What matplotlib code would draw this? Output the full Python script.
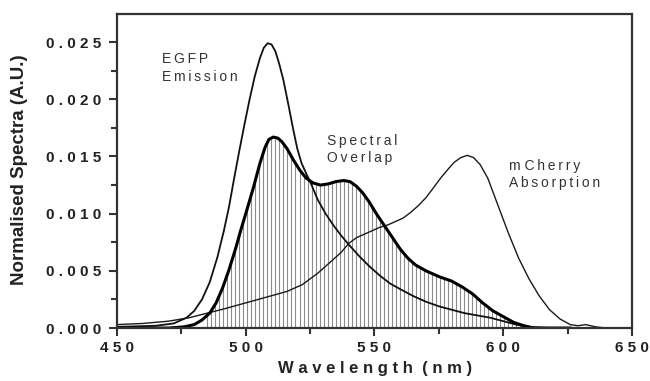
"""
EGFP emission / mCherry absorption spectral overlap
"""

import matplotlib
matplotlib.use('Agg')
import matplotlib.pyplot as plt
import numpy as np

plt.rcParams['font.family'] = ['Liberation Sans', 'DejaVu Sans']

# ---- data ----
# EGFP emission
egfp_nm = [450, 465, 472, 477, 480, 483, 486, 489, 491.5, 493.5, 495.5, 497.5, 499.5,
           501.5, 503.5, 505.5, 507, 508.5, 510, 511.5, 513, 514.6, 516.5, 518.5, 520,
           521.7, 523.5, 525, 528, 531, 534, 537, 540, 544, 548, 552, 556, 560, 565,
           570, 575, 580, 585, 590, 595, 600, 605, 610, 618, 625]
egfp_val = [0.0001, 0.0002, 0.0004, 0.0009, 0.0015, 0.0025, 0.0040, 0.0062, 0.0085,
            0.0106, 0.0131, 0.0155, 0.0178, 0.0200, 0.0220, 0.0236, 0.0245, 0.0249,
            0.0248, 0.0242, 0.0231, 0.0217, 0.0196, 0.0173, 0.0157, 0.0144, 0.0135,
            0.0128, 0.0112, 0.0100, 0.0090, 0.0081, 0.0073, 0.0063, 0.0054, 0.0046,
            0.0039, 0.0034, 0.0028, 0.0023, 0.0019, 0.0016, 0.0013, 0.0011, 0.0009,
            0.0006, 0.0003, 0.0001, 0.0, 0.0]

# mCherry absorption
mch_nm = [450, 460, 470, 478, 485, 492, 500, 508, 516, 522, 528, 531, 534, 537, 540,
          543, 546, 549, 552, 555, 558, 561, 564, 567, 570, 573, 576, 579, 581, 583.5,
          586, 588.5, 591, 594, 598, 602, 606, 610, 614, 618, 622, 626, 629, 632, 636,
          640]
mch_val = [0.0003, 0.0004, 0.0006, 0.0009, 0.0013, 0.0017, 0.0022, 0.0027, 0.0032,
           0.0038, 0.0048, 0.0054, 0.0060, 0.0066, 0.0074, 0.0079, 0.0082, 0.0085,
           0.0088, 0.0090, 0.0093, 0.0096, 0.0101, 0.0107, 0.0114, 0.0123, 0.0132,
           0.0140, 0.0145, 0.0149, 0.0151, 0.0149, 0.0143, 0.0131, 0.0107, 0.0083,
           0.0061, 0.0043, 0.0028, 0.0016, 0.0008, 0.0003, 0.0002, 0.0003, 0.0001, 0.0]

# spectral overlap (thick, hatched)
ovl_nm = [450, 470, 476, 480, 483, 486, 488.5, 491, 493.5, 496, 498, 500.4, 503, 505.5,
          507.5, 509, 510.7, 512.5, 514, 516, 518.5, 521, 523.5, 526, 529, 532, 535,
          538, 540.5, 543, 545.5, 548, 551, 554, 557, 560, 563, 566, 570, 575, 580,
          584, 588, 592, 596, 600, 604, 608, 612, 626]
ovl_val = [0.0, 0.0, 0.0001, 0.0003, 0.0007, 0.0013, 0.0022, 0.0035, 0.0051, 0.0069,
           0.0085, 0.0103, 0.0123, 0.0144, 0.0158, 0.0165, 0.0167, 0.0166, 0.0163,
           0.0157, 0.0147, 0.0138, 0.0131, 0.0127, 0.0125, 0.0126, 0.0128, 0.0129,
           0.0128, 0.0124, 0.0118, 0.0110, 0.0099, 0.0089, 0.0079, 0.0069, 0.0061,
           0.0055, 0.0050, 0.0045, 0.0041, 0.0036, 0.0030, 0.0022, 0.0015, 0.0010,
           0.0005, 0.0002, 0.0, 0.0]

x_ticks = [450, 500, 550, 600, 650]
y_ticks = [0.000, 0.005, 0.010, 0.015, 0.020, 0.025]


def spaced(s, gap=' '):
    return gap.join(s)


THIN = '\u2009'

fig = plt.figure(figsize=(6.5, 3.81), dpi=100)
ax = fig.add_axes([0.18, 0.139, 0.7923, 0.824])

# hatching under the overlap curve
hatch_x = np.arange(485, 609, 1.56)
ax.vlines(hatch_x, 0, np.interp(hatch_x, ovl_nm, ovl_val),
          colors='#8c8c8c', linewidth=0.8)

ax.plot(mch_nm, mch_val, color='#1a1a1a', lw=1.0, solid_joinstyle='round')
ax.plot(egfp_nm, egfp_val, color='#111111', lw=1.3, solid_joinstyle='round')
ax.plot(ovl_nm, ovl_val, color='#000000', lw=2.2, solid_joinstyle='round')

ax.set_xlim(450, 650)
ax.set_ylim(0, 0.02745)

ax.set_xticks(x_ticks)
ax.set_xticklabels([spaced(str(v)) for v in x_ticks])
ax.set_xticks(np.arange(475, 650, 50), minor=True)
ax.set_yticks(y_ticks)
ax.set_yticklabels([spaced(f'{v:.3f}') for v in y_ticks])
ax.set_yticks(np.arange(0.0025, 0.0275, 0.005), minor=True)

ax.tick_params(which='both', direction='out', width=1.5, color='#333333',
               labelsize=11, labelcolor='#222222')
ax.tick_params(which='major', length=6)
ax.tick_params(which='minor', length=4)
ax.tick_params(axis='x', pad=3)
ax.tick_params(axis='y', pad=5)
for lab in ax.get_xticklabels() + ax.get_yticklabels():
    lab.set_fontweight('bold')

for sp in ax.spines.values():
    sp.set_linewidth(1.6)
    sp.set_color('#333333')

ax.set_xlabel(spaced('Wavelength') + '  ' + spaced('(nm)'), fontsize=12,
              fontweight='bold', color='#222222')
ax.xaxis.set_label_coords(0.501, -0.105)
ax.set_ylabel('Normalised Spectra (A.U.)', fontsize=13.5, fontweight='bold',
              color='#222222')
ax.yaxis.set_label_coords(-0.172, 0.503)

txt_kw = dict(fontsize=10, color='#333333', va='top', ha='left', linespacing=1.3)
ax.text(467.5, 0.0241, spaced('EGFP', THIN) + '\n' + spaced('Emission', THIN), **txt_kw)
ax.text(531.6, 0.0170, spaced('Spectral', THIN) + '\n' + spaced('Overlap', THIN), **txt_kw)
ax.text(602.2, 0.0148, 'm ' + spaced('Cherry', THIN) + '\n' + spaced('Absorption', THIN),
        **txt_kw)

fig.savefig('out.png', dpi=100, facecolor='white')
plt.close(fig)
